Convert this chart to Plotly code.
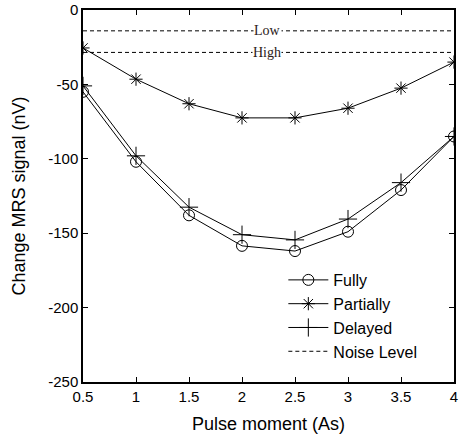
import plotly.graph_objects as go

pulse = [0.5, 1, 1.5, 2, 2.5, 3, 3.5, 4]
fully = [-55, -102, -138, -158.5, -162, -149, -121, -85]
partially = [-25.5, -46.5, -63, -72.5, -72.5, -66, -52.5, -35]
delayed = [-51, -98, -132.5, -151, -154.5, -140.5, -116, -85]
noise_x = [0.5, 4]
noise_low = -14
noise_high = -28.5
x_ticks = [0.5, 1, 1.5, 2, 2.5, 3, 3.5, 4]
x_tick_text = ["0.5", "1", "1.5", "2", "2.5", "3", "3.5", "4"]
y_ticks = [-250, -200, -150, -100, -50, 0]
y_tick_text = ["-250", "-200", "-150", "-100", "-50", "0"]

fig = go.Figure()
line = dict(color="black", width=1)
fig.add_trace(go.Scatter(x=pulse, y=fully, name="Fully", mode="lines+markers", line=line,
                         marker=dict(symbol="circle-open", size=11, color="black", line=dict(width=1))))
fig.add_trace(go.Scatter(x=pulse, y=partially, name="Partially", mode="lines+markers", line=line,
                         marker=dict(symbol="asterisk-open", size=11, color="black", line=dict(width=1))))
fig.add_trace(go.Scatter(x=pulse, y=delayed, name="Delayed", mode="lines+markers", line=line,
                         marker=dict(symbol="cross-thin-open", size=13, color="black", line=dict(width=1))))
fig.add_trace(go.Scatter(x=noise_x, y=[noise_low] * 2, name="Noise Level", mode="lines",
                         line=dict(color="black", width=1, dash="4px,3px"), legendgroup="noise"))
fig.add_trace(go.Scatter(x=noise_x, y=[noise_high] * 2, name="Noise Level", mode="lines", showlegend=False,
                         line=dict(color="black", width=1, dash="4px,3px"), legendgroup="noise"))

for yv, txt in [(noise_low, "Low"), (noise_high, "High")]:
    fig.add_annotation(x=2.24, y=yv, text=txt, showarrow=False, bgcolor="white",
                       font=dict(family="Liberation Serif, DejaVu Serif, serif", size=14, color="#2a2018"),
                       borderpad=0)

axis_common = dict(showline=True, linecolor="black", linewidth=1.5, mirror="ticks", ticks="inside",
                   ticklen=5, tickcolor="black", showgrid=False, zeroline=False, automargin=False,
                   tickfont=dict(family="Liberation Sans, Arial, sans-serif", size=15, color="black"),
                   title_font=dict(family="Liberation Sans, Arial, sans-serif", size=18, color="black"))
fig.update_xaxes(range=[0.5, 4], tickvals=x_ticks, ticktext=x_tick_text, title_text="Pulse moment (As)",
                 title_standoff=14, **axis_common)
fig.update_yaxes(range=[-250, 0], tickvals=y_ticks, ticktext=y_tick_text, title_text="Change MRS signal (nV)",
                 title_standoff=18, **axis_common)

fig.update_layout(
    width=460, height=441,
    margin=dict(l=83, r=6, t=10, b=59, autoexpand=False),
    plot_bgcolor="white", paper_bgcolor="white",
    legend=dict(x=0.54, y=0.035, xanchor="left", yanchor="bottom", bgcolor="rgba(0,0,0,0)",
                font=dict(family="Liberation Sans, Arial, sans-serif", size=16, color="black"),
                tracegroupgap=0, itemwidth=40),
    showlegend=True,
)

fig.write_html("out.html", config={"displayModeBar": False},
               post_script="document.body.style.margin='0';document.body.style.overflow='hidden';")
